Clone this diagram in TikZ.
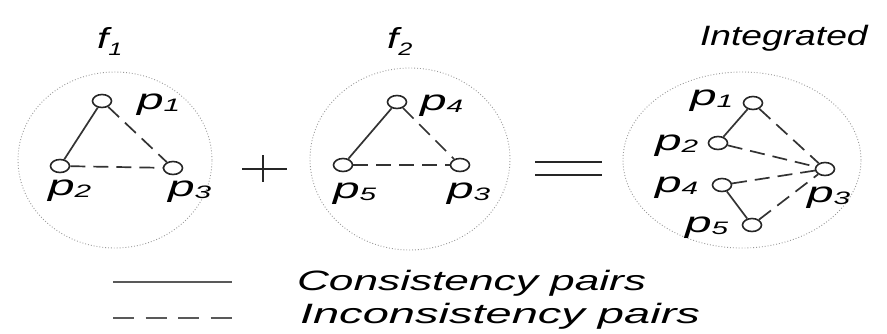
\documentclass[tikz,border=0pt]{standalone}
\usepackage{graphicx}
\usepackage{fontspec}
\setmainfont{Liberation Sans}
\usetikzlibrary{shapes.geometric}
\newcommand{\plab}[1]{\scalebox{1.65}[1]{\fontsize{29}{29}\selectfont\itshape p\raisebox{-2pt}{\fontsize{18}{18}\selectfont #1}}}
\newcommand{\flab}[1]{\scalebox{1.4}[1]{\fontsize{29}{29}\selectfont\itshape f\raisebox{-7pt}{\fontsize{18}{18}\selectfont #1}}}
\newcommand{\wtext}[2]{\scalebox{#1}[1]{\fontsize{28}{28}\selectfont\itshape #2}}
\tikzset{
  pnode/.style={ellipse, draw=black!85, line width=1.6pt, fill=white, minimum width=19pt, minimum height=13pt, inner sep=0pt},
  cons/.style={draw=black!80, line width=1.7pt},
  incons/.style={draw=black!80, line width=1.7pt, dash pattern=on 15pt off 8pt},
  lab/.style={anchor=base west, inner sep=0pt, outer sep=0pt},
  group/.style={draw=black!40, dotted, line width=0.9pt},
  legcons/.style={draw=black!65, line width=2.8pt},
  legincons/.style={draw=black!65, line width=2.6pt, dash pattern=on 21pt off 11.5pt},
  sign/.style={draw=black!85, line width=2.2pt}
}
\begin{document}
\begin{tikzpicture}[x=1pt,y=-1pt]
\useasboundingbox (0,0) rectangle (887,333);
% group circles
\draw[group] (115,160) ellipse [x radius=97pt, y radius=88pt];
\draw[group] (410,159) ellipse [x radius=100pt, y radius=91pt];
\draw[group] (742,160) ellipse [x radius=119pt, y radius=88pt];
% titles
\node[lab] (f1) at (97,48) {\flab{1}};
\node[lab] (f2) at (387,48) {\flab{2}};
\node[lab] (integ) at (700,45) {\wtext{1.33}{Integrated}};
% f1 graph
\node[pnode] (a1) at (102,101) {};
\node[pnode] (a2) at (60,166) {};
\node[pnode] (a3) at (173,168) {};
\draw[cons] (a1) -- (a2);
\draw[incons] (a1) -- (a3);
\draw[incons] (a2) -- (a3);
\node[lab] (la1) at (137,109) {\plab{1}};
\node[lab] (la2) at (48,195) {\plab{2}};
\node[lab] (la3) at (168,196) {\plab{3}};
% f2 graph
\node[pnode] (b4) at (397,102) {};
\node[pnode] (b5) at (343,165) {};
\node[pnode] (b3) at (460,165) {};
\draw[cons] (b4) -- (b5);
\draw[incons] (b4) -- (b3);
\draw[incons] (b5) -- (b3);
\node[lab] (lb4) at (420,110) {\plab{4}};
\node[lab] (lb5) at (333,198) {\plab{5}};
\node[lab] (lb3) at (447,198) {\plab{3}};
% integrated graph
\node[pnode] (c1) at (753,103) {};
\node[pnode] (c2) at (718,143) {};
\node[pnode] (c4) at (722,185) {};
\node[pnode] (c5) at (752,225) {};
\node[pnode] (c3) at (825,169) {};
\draw[cons] (c1) -- (c2);
\draw[cons] (c4) -- (c5);
\draw[incons] (c1) -- (c3);
\draw[incons] (c2) -- (c3);
\draw[incons] (c4) -- (c3);
\draw[incons] (c5) -- (c3);
\node[lab] (lc1) at (690,105) {\plab{1}};
\node[lab] (lc2) at (655,150) {\plab{2}};
\node[lab] (lc4) at (655,192) {\plab{4}};
\node[lab] (lc5) at (685,232) {\plab{5}};
\node[lab] (lc3) at (807,202) {\plab{3}};
% plus and equals
\coordinate (ph1) at (242,169); \coordinate (ph2) at (287,169);
\coordinate (pv1) at (263,155); \coordinate (pv2) at (263,182);
\draw[sign] (ph1) -- (ph2);
\draw[sign] (pv1) -- (pv2);
\coordinate (e1a) at (535,162); \coordinate (e1b) at (602,162);
\coordinate (e2a) at (535,175); \coordinate (e2b) at (602,175);
\draw[sign] (e1a) -- (e1b);
\draw[sign] (e2a) -- (e2b);
% legend
\coordinate (l1a) at (113,282); \coordinate (l1b) at (232,282);
\coordinate (l2a) at (113,318); \coordinate (l2b) at (232,318);
\draw[legcons] (l1a) -- (l1b);
\draw[legincons] (l2a) -- (l2b);
\node[lab] (t1) at (297,290) {\wtext{1.58}{Consistency pairs}};
\node[lab] (t2) at (300,323) {\wtext{1.68}{Inconsistency pairs}};
\end{tikzpicture}
\end{document}
